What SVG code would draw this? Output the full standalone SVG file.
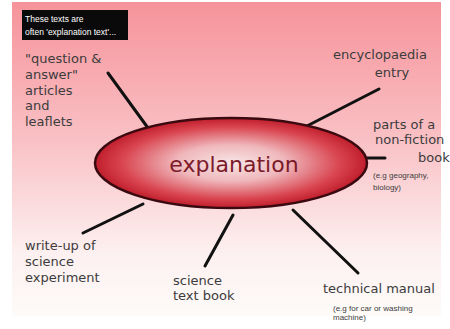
<svg xmlns="http://www.w3.org/2000/svg" width="450" height="329" viewBox="0 0 450 329">
<defs>
<linearGradient id="bg" x1="0" y1="0" x2="0" y2="1">
<stop offset="0" stop-color="#f6939a"/>
<stop offset="0.45" stop-color="#f9c2c6"/>
<stop offset="0.8" stop-color="#fdf0f0"/>
<stop offset="1" stop-color="#fdfbf9"/>
</linearGradient>
<radialGradient id="ell" cx="0.5" cy="0.5" r="0.5">
<stop offset="0" stop-color="#f8e6e6"/>
<stop offset="0.4" stop-color="#efb8bc"/>
<stop offset="0.8" stop-color="#d94550"/>
<stop offset="1" stop-color="#c01e2c"/>
</radialGradient>
<style>
.lbl{font-family:"DejaVu Sans","Liberation Sans",sans-serif;font-size:13px;fill:#3c3c3c}
.sm{font-family:"Liberation Sans",sans-serif;font-size:8px;fill:#3c3c3c}
.con line{stroke:#111;stroke-width:3;stroke-linecap:round}
</style>
</defs>
<rect width="450" height="329" fill="#ffffff"/>
<rect x="12" y="2" width="429" height="314" fill="url(#bg)"/>
<g id="note">
<rect x="22" y="10" width="106" height="30" fill="#0a0a0a"/>
<text x="25" y="22" font-family="Liberation Sans,sans-serif" font-size="8.5" fill="#ffffff">These texts are</text>
<text x="25" y="35" font-family="Liberation Sans,sans-serif" font-size="8.5" fill="#ffffff">often 'explanation text'...</text>
</g>
<g class="con">
<line x1="108" y1="73" x2="148" y2="128"/>
<line x1="379" y1="89" x2="305" y2="127"/>
<line x1="364" y1="158" x2="385" y2="158"/>
<line x1="83" y1="233" x2="143" y2="204"/>
<line x1="233" y1="215" x2="205" y2="266"/>
<line x1="293" y1="210" x2="358" y2="273"/>
</g>
<g id="center">
<ellipse cx="231" cy="163" rx="136" ry="45" fill="url(#ell)" stroke="#3a0a10" stroke-width="2.5"/>
<text x="234" y="172" text-anchor="middle" font-family="DejaVu Sans,sans-serif" font-size="22" fill="#7a1a2a">explanation</text>
</g>
<g id="qa">
<text class="lbl" x="25" y="63">"question &amp;</text>
<text class="lbl" x="25" y="79">answer"</text>
<text class="lbl" x="25" y="95">articles</text>
<text class="lbl" x="25" y="110">and</text>
<text class="lbl" x="25" y="126">leaflets</text>
</g>
<g id="ency">
<text class="lbl" x="380" y="59" text-anchor="middle">encyclopaedia</text>
<text class="lbl" x="392" y="77" text-anchor="middle">entry</text>
</g>
<g id="parts">
<text class="lbl" x="373" y="129">parts of a</text>
<text class="lbl" x="375" y="144">non-fiction</text>
<text class="lbl" x="418" y="162">book</text>
<text class="sm" x="373" y="178">(e.g geography,</text>
<text class="sm" x="373" y="190">biology)</text>
</g>
<g id="writeup">
<text class="lbl" x="25" y="250">write-up of</text>
<text class="lbl" x="25" y="266">science</text>
<text class="lbl" x="25" y="282">experiment</text>
</g>
<g id="textbook">
<text class="lbl" x="173" y="285">science</text>
<text class="lbl" x="173" y="300">text book</text>
</g>
<g id="manual">
<text class="lbl" x="323" y="293">technical manual</text>
<text class="sm" x="333" y="311">(e.g for car or washing</text>
<text class="sm" x="333" y="320">machine)</text>
</g>
</svg>
